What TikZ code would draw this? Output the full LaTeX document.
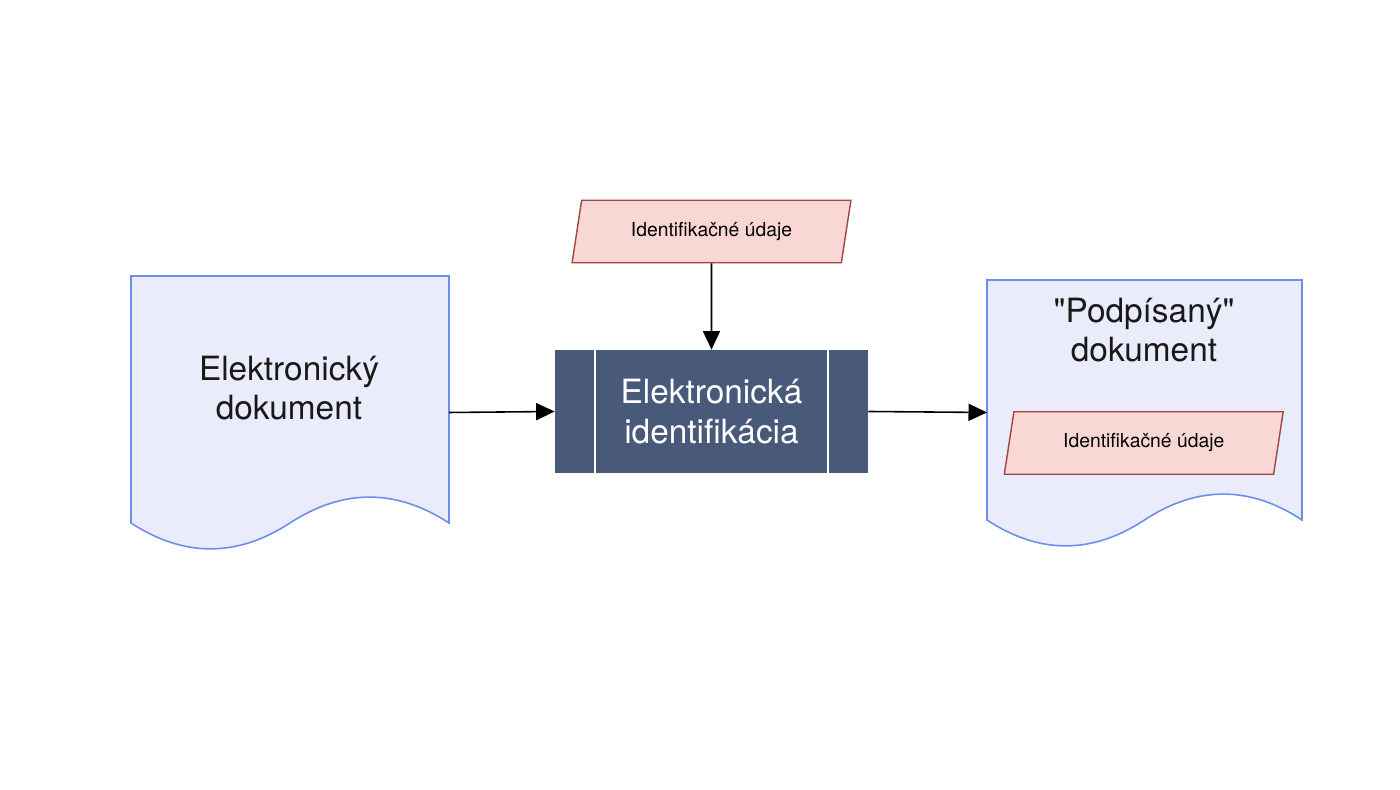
\documentclass[tikz,border=0pt]{standalone}
\usepackage{fontspec}
\setmainfont{TeX Gyre Heros}
\usepackage{xcolor}
\definecolor{dokfill}{RGB}{234, 236, 252}
\definecolor{dokline}{RGB}{108, 142, 236}
\definecolor{udajfill}{RGB}{248, 215, 213}
\definecolor{udajline}{RGB}{160, 70, 66}
\definecolor{eidnavy}{RGB}{72, 89, 122}
\usetikzlibrary{arrows.meta, shapes.geometric, calc}

\begin{document}
\begin{tikzpicture}[
    >={Triangle[length=0.37cm, width=0.34cm]},
    doc/.style={draw=dokline, fill=dokfill, line width=0.9pt},
    udaje/.style={trapezium, trapezium left angle=78, trapezium right angle=102,
        trapezium stretches=true, draw=udajline, fill=udajfill, line width=0.8pt,
        minimum width=5.58cm, minimum height=1.25cm, font=\fontsize{11}{13}\selectfont},
    proces/.style={fill=eidnavy, minimum width=6.26cm, minimum height=2.46cm,
        text=white, align=center, font=\fontsize{19}{22.5}\selectfont},
    nazov/.style={align=center, font=\fontsize{19}{22.5}\selectfont, text=black!90},
    arrow/.style={->, line width=0.9pt}
]
\useasboundingbox (0,0) rectangle (28,15.8);

% Elektronický dokument (vstup)
\draw[doc] (2.62,10.28) -- (8.98,10.28) -- (8.98,5.34)
    .. controls (7.92,6.03) and (6.86,6.03) .. (5.8,5.34)
    .. controls (4.74,4.65) and (3.68,4.65) .. (2.62,5.34) -- cycle;
\node[nazov] (edok) at (5.78,8.04) {Elektronický\\dokument};
\coordinate (edokR) at (8.98,7.55);

% Elektronická identifikácia (proces)
\node[proces] (eid) at (14.23,7.57) {Elektronická\\identifikácia};
\draw[white, line width=1.2pt] ([xshift=0.8cm]eid.north west) -- ([xshift=0.8cm]eid.south west);
\draw[white, line width=1.2pt] ([xshift=-0.8cm]eid.north east) -- ([xshift=-0.8cm]eid.south east);

% Identifikačné údaje
\node[udaje] (udaje) at (14.23,11.17) {Identifikačné údaje};

% "Podpísaný" dokument (výstup)
\draw[doc] (19.74,10.2) -- (26.04,10.2) -- (26.04,5.4)
    .. controls (25.0,6.09) and (23.94,6.09) .. (22.89,5.4)
    .. controls (21.84,4.71) and (20.79,4.71) .. (19.74,5.4) -- cycle;
\node[nazov] (pdok) at (22.88,9.2) {\textquotedbl Podpísaný\textquotedbl\\dokument};
\node[udaje] (pudaje) at (22.875,6.94) {Identifikačné údaje};
\coordinate (pdokL) at (19.74,7.55);

% Prepojenia
\draw[arrow] (udaje) -- (eid);
\draw[arrow] (edokR) -- (eid.west);
\draw[arrow] (eid.east) -- (pdokL);

\end{tikzpicture}
\end{document}
